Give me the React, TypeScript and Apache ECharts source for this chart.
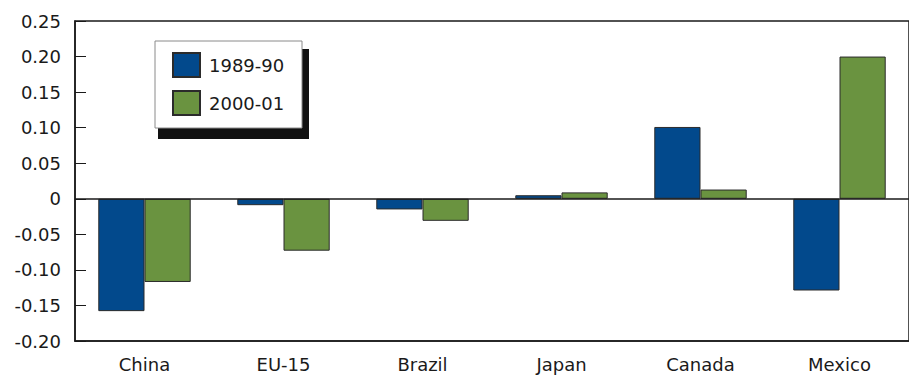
import React, { useEffect, useRef } from "react";
import * as echarts from "echarts";

const categories = ["China", "EU-15", "Brazil", "Japan", "Canada", "Mexico"];
const period1Label = "1989-90";
const period2Label = "2000-01";
const period1Values = [-0.158, -0.009, -0.015, 0.005, 0.101, -0.129];
const period2Values = [-0.117, -0.073, -0.031, 0.009, 0.013, 0.2];
const yMin = -0.2;
const yMax = 0.25;
const yStep = 0.05;

const FONT = "'DejaVu Sans', sans-serif";
const INK = "#1a1a1a";

export default function App() {
  const ref = useRef<HTMLDivElement>(null);

  useEffect(() => {
    if (!ref.current) return;
    const chart = echarts.init(ref.current, null, { renderer: "svg" });
    chart.setOption({
      animation: false,
      backgroundColor: "#ffffff",
      grid: {
        left: 75,
        top: 21,
        width: 840,
        height: 320,
        show: true,
        borderColor: INK,
        borderWidth: 1.5,
        backgroundColor: "transparent",
        z: 3,
      },
      legend: {
        orient: "vertical",
        left: 167,
        top: 47,
        itemWidth: 27,
        itemHeight: 24,
        itemGap: 12,
        icon: "rect",
        selectedMode: false,
        z: 10,
        textStyle: {
          fontFamily: FONT,
          fontSize: 18,
          color: INK,
          padding: [0, 0, 0, 4],
        },
        data: [period1Label, period2Label],
      },
      graphic: [
        {
          type: "rect",
          z: 5,
          shape: { x: 158, y: 49, width: 151, height: 90 },
          style: { fill: "#111111" },
        },
        {
          type: "rect",
          z: 6,
          shape: { x: 155, y: 41, width: 147, height: 87 },
          style: { fill: "#ffffff", stroke: "#8a8a8a", lineWidth: 1 },
        },
      ],
      xAxis: {
        type: "category",
        data: categories,
        axisLine: { onZero: false, lineStyle: { color: INK, width: 1.5 } },
        axisTick: {
          alignWithLabel: true,
          length: 9,
          lineStyle: { color: INK, width: 1 },
        },
        axisLabel: {
          fontFamily: FONT,
          fontSize: 18,
          color: INK,
          margin: 14,
        },
      },
      yAxis: {
        type: "value",
        min: yMin,
        max: yMax,
        interval: yStep,
        splitLine: { show: false },
        axisLine: { show: true, lineStyle: { color: INK, width: 1.5 } },
        axisTick: {
          show: true,
          inside: true,
          length: 11,
          lineStyle: { color: INK, width: 1 },
        },
        axisLabel: {
          fontFamily: FONT,
          fontSize: 18,
          color: INK,
          margin: 14,
          formatter: (v: number) =>
            Math.abs(v) < 1e-9 ? "0" : v.toFixed(2),
        },
      },
      series: [
        {
          name: period1Label,
          type: "bar",
          data: period1Values,
          barGap: "0%",
          barCategoryGap: "33.5%",
          itemStyle: { color: "#02498c", borderColor: "#2b2b2b", borderWidth: 1 },
          markLine: {
            silent: true,
            symbol: "none",
            label: { show: false },
            lineStyle: { color: INK, width: 1.5, type: "solid" },
            data: [{ yAxis: 0 }],
          },
        },
        {
          name: period2Label,
          type: "bar",
          data: period2Values,
          barGap: "0%",
          barCategoryGap: "33.5%",
          itemStyle: { color: "#6a9340", borderColor: "#2b2b2b", borderWidth: 1 },
        },
      ],
    });
    return () => chart.dispose();
  }, []);

  return (
    <div
      ref={ref}
      style={{ position: "absolute", left: 0, top: 0, width: 909, height: 377 }}
    />
  );
}
